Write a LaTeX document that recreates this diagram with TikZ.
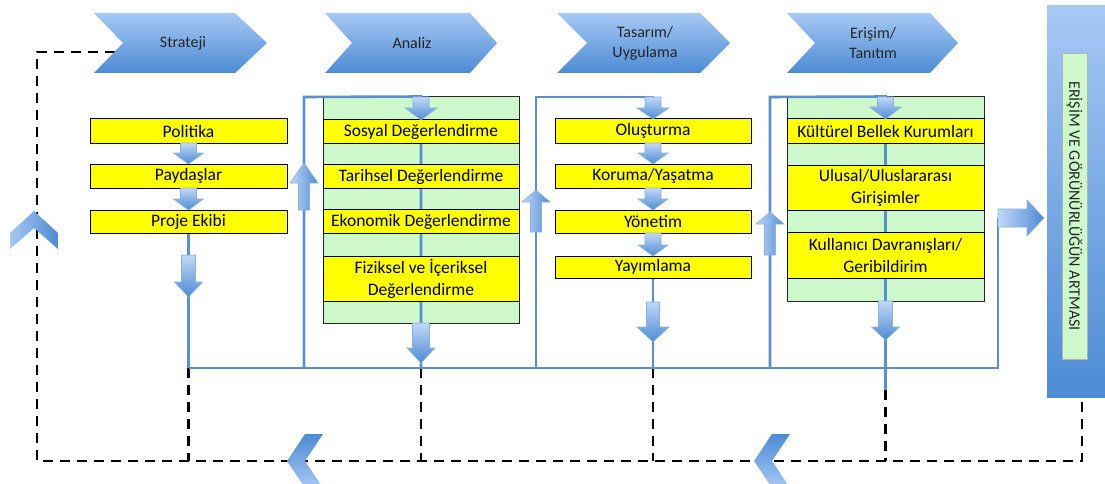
\documentclass[tikz,border=0pt]{standalone}
\usepackage{fontspec}
\setmainfont{Carlito}
\definecolor{lnblue}{HTML}{5B8FD0}
\definecolor{chtop}{HTML}{A6C8F4}
\definecolor{chbot}{HTML}{4D8BD4}
\definecolor{ylw}{HTML}{FFFF00}
\definecolor{grn}{HTML}{CCF8CC}
\tikzset{
  conn/.style={draw=lnblue, line width=2.6pt},
  dsh/.style={draw=black, line width=2.4pt, dash pattern=on 10pt off 7pt},
  chev/.style={top color=chtop, bottom color=chbot, draw=none},
  barr/.style={top color=chtop!70!white, bottom color=chbot, draw=lnblue!70, line width=0.6pt},
  barrh/.style={left color=chtop!70!white, right color=chbot, draw=lnblue!70, line width=0.6pt},
  ybox/.style={draw=black, line width=1pt, fill=ylw, inner sep=0pt, font=\fontsize{17.5}{22}\selectfont, align=center},
  gbox/.style={draw=black!85, line width=1pt, fill=grn, inner sep=0pt},
  chtext/.style={font=\fontsize{16}{20}\selectfont, align=center, text=black!85},
}
% down block arrow: x, ytop, ytip, shaft half, head half, head length
\newcommand\blkdn[6]{\path[barr] ({#1-#4},{#2}) -- ({#1+#4},{#2}) -- ({#1+#4},{#3-#6}) -- ({#1+#5},{#3-#6}) -- ({#1},{#3}) -- ({#1-#5},{#3-#6}) -- ({#1-#4},{#3-#6}) -- cycle;}
% up block arrow: x, ybottom, ytip, shaft half, head half, head length
\newcommand\blkup[6]{\path[barrh] ({#1-#4},{#2}) -- ({#1-#4},{#3+#6}) -- ({#1-#5},{#3+#6}) -- ({#1},{#3}) -- ({#1+#5},{#3+#6}) -- ({#1+#4},{#3+#6}) -- ({#1+#4},{#2}) -- cycle;}
\begin{document}
\begin{tikzpicture}[x=1pt,y=-1pt]
\useasboundingbox (0,0) rectangle (1105,484);

% ---- boxes (nodes) ----
\node[gbox, minimum width=196pt, minimum height=226pt] (ga) at (421,210) {};
\node[gbox, minimum width=197pt, minimum height=204pt] (ge) at (885.5,199) {};
\node[draw=none, minimum width=58pt, minimum height=391pt, inner sep=0pt, top color=chtop, bottom color=chbot] (bar) at (1076,201.5) {};

% ---- named coordinates ----
\coordinate (bL) at (188.5,368);
\coordinate (bR) at (998,368);
\coordinate (f1b) at (304,368);
\coordinate (f1t) at (304,97);
\coordinate (f2b) at (536,368);
\coordinate (f2t) at (536,97);
\coordinate (f3b) at (770,368);
\coordinate (f3t) at (770,97);
\coordinate (rt) at (998,218);
\coordinate (stub) at (885.5,390);
\coordinate (sn) at (115,52);
\coordinate (d1) at (37,52);
\coordinate (d2) at (37,461);
\coordinate (d3) at (1082,461);

% ---- dashed feedback ----
\draw[dsh] (sn) -- (d1) -- (d2) -- (d3) -- (d3 |- bar.south);
\draw[dsh] (bL) -- (bL |- d2);
\draw[dsh] (ga.south |- bL) -- (ga.south |- d2);
\draw[dsh] (653,368) -- (653,461);
\draw[dsh] (stub) -- (stub |- d2);

% ---- blue connectors ----
\draw[conn] (bL) -- (bR) -- (rt);
\draw[conn] (188.5,233) -- (bL);
\draw[conn] (f1b) -- (f1t) -- (ga.north) -- (ga.south |- bL);
\draw[conn] (f2b) -- (f2t) -- (653,97) -- (653,368);
\draw[conn] (f3b) -- (f3t) -- (ge.north) -- (stub);

% ---- yellow boxes ----
\node[ybox, minimum width=197pt, minimum height=24pt] (pol) at (188.5,131) {Politika};
\node[ybox, minimum width=197pt, minimum height=24pt] (pay) at (188.5,176) {Paydaşlar};
\node[ybox, minimum width=197pt, minimum height=23pt] (pro) at (188.5,221.5) {Proje Ekibi};

\node[ybox, minimum width=196pt, minimum height=23.5pt] (sos) at (421,131.5) {Sosyal Değerlendirme};
\node[ybox, minimum width=196pt, minimum height=23.5pt] (tar) at (421,176.5) {Tarihsel Değerlendirme};
\node[ybox, minimum width=196pt, minimum height=23.5pt] (eko) at (421,221.5) {Ekonomik Değerlendirme};
\node[ybox, minimum width=196pt, minimum height=45pt] (fiz) at (421,278.5) {Fiziksel ve İçeriksel\\Değerlendirme};

\node[ybox, minimum width=196pt, minimum height=24pt] (olu) at (653,131) {Oluşturma};
\node[ybox, minimum width=196pt, minimum height=24pt] (kor) at (653,176) {Koruma/Yaşatma};
\node[ybox, minimum width=196pt, minimum height=23pt] (yon) at (653,221.5) {Yönetim};
\node[ybox, minimum width=196pt, minimum height=22pt] (yay) at (653,267) {Yayımlama};

\node[ybox, minimum width=197pt, minimum height=24pt] (kul) at (885.5,131) {Kültürel Bellek Kurumları};
\node[ybox, minimum width=197pt, minimum height=45pt] (ulu) at (885.5,187.5) {Ulusal/Uluslararası\\Girişimler};
\node[ybox, minimum width=197pt, minimum height=46pt] (kull) at (885.5,255) {Kullanıcı Davranışları/\\Geribildirim};

% ---- block arrows ----
\blkdn{188.5}{143}{164}{8}{15}{11}
\blkdn{188.5}{188}{210}{8}{15}{11}
\blkdn{188.5}{255}{297}{7}{14}{15}

\blkdn{421}{97}{120}{8}{16}{12}
\blkdn{421}{323}{363}{8.5}{14}{15}
\blkup{304}{210}{163}{5.5}{14}{20}

\blkdn{653}{97}{119}{8}{16}{11}
\blkdn{653}{143}{164}{8}{15}{11}
\blkdn{653}{188}{210}{8}{15}{11}
\blkdn{653}{233}{256}{8}{15}{11}
\blkdn{653}{302}{342}{6.5}{16}{15}
\blkup{536}{232}{190}{5.5}{14}{12}

\blkdn{885.5}{97}{119}{8}{16}{12}
\blkdn{885.5}{301}{340}{7}{14}{13}
\blkup{770}{255}{212}{5.5}{14}{12}

\path[barrh] (rt |- 0,209) -- (1027,209) -- (1027,200) -- (1044,218) -- (1027,236) -- (1027,227) -- (rt |- 0,227) -- cycle;

% ---- chevrons ----
\path[chev] (94,13) -- (235,13) -- (267,43) -- (235,73) -- (94,73) -- (123,43) -- cycle;
\path[chev] (325,13) -- (470,13) -- (497,43) -- (470,73) -- (325,73) -- (352,43) -- cycle;
\path[chev] (557,13) -- (700,13) -- (730,43) -- (700,73) -- (557,73) -- (587,43) -- cycle;
\path[chev] (787,13) -- (930,13) -- (958,43) -- (930,73) -- (787,73) -- (815,43) -- cycle;
\node[chtext] (strat) at (183,43) {Strateji};
\node[chtext] (anl) at (412,43) {Analiz};
\node[chtext] (tas) at (645,43) {Tasarım/\\Uygulama};
\node[chtext] (eri) at (873,43) {Erişim/\\Tanıtım};

% direction chevrons on dashed path
\path[left color=chtop, right color=chbot] (34,211) -- (58,233) -- (58,249) -- (34,228) -- (10,249) -- (10,233) -- cycle;
\path[top color=chbot, bottom color=chtop] (287,461) -- (305,434) -- (323,434) -- (305,461) -- (323,488) -- (305,488) -- cycle;
\path[top color=chbot, bottom color=chtop] (754,461) -- (772,434) -- (790,434) -- (772,461) -- (790,488) -- (772,488) -- cycle;

% ---- right bar label ----
\node[draw=black!30, line width=0.8pt, fill=grn, minimum width=25pt, minimum height=306pt, inner sep=0pt] (vb) at (1074.5,206) {};
\node[rotate=-90, font=\fontsize{16}{20}\selectfont, text=black!85] (vis) at (vb.center) {ERİŞİM VE GÖRÜNÜRLÜĞÜN ARTMASI};
\end{tikzpicture}
\end{document}
